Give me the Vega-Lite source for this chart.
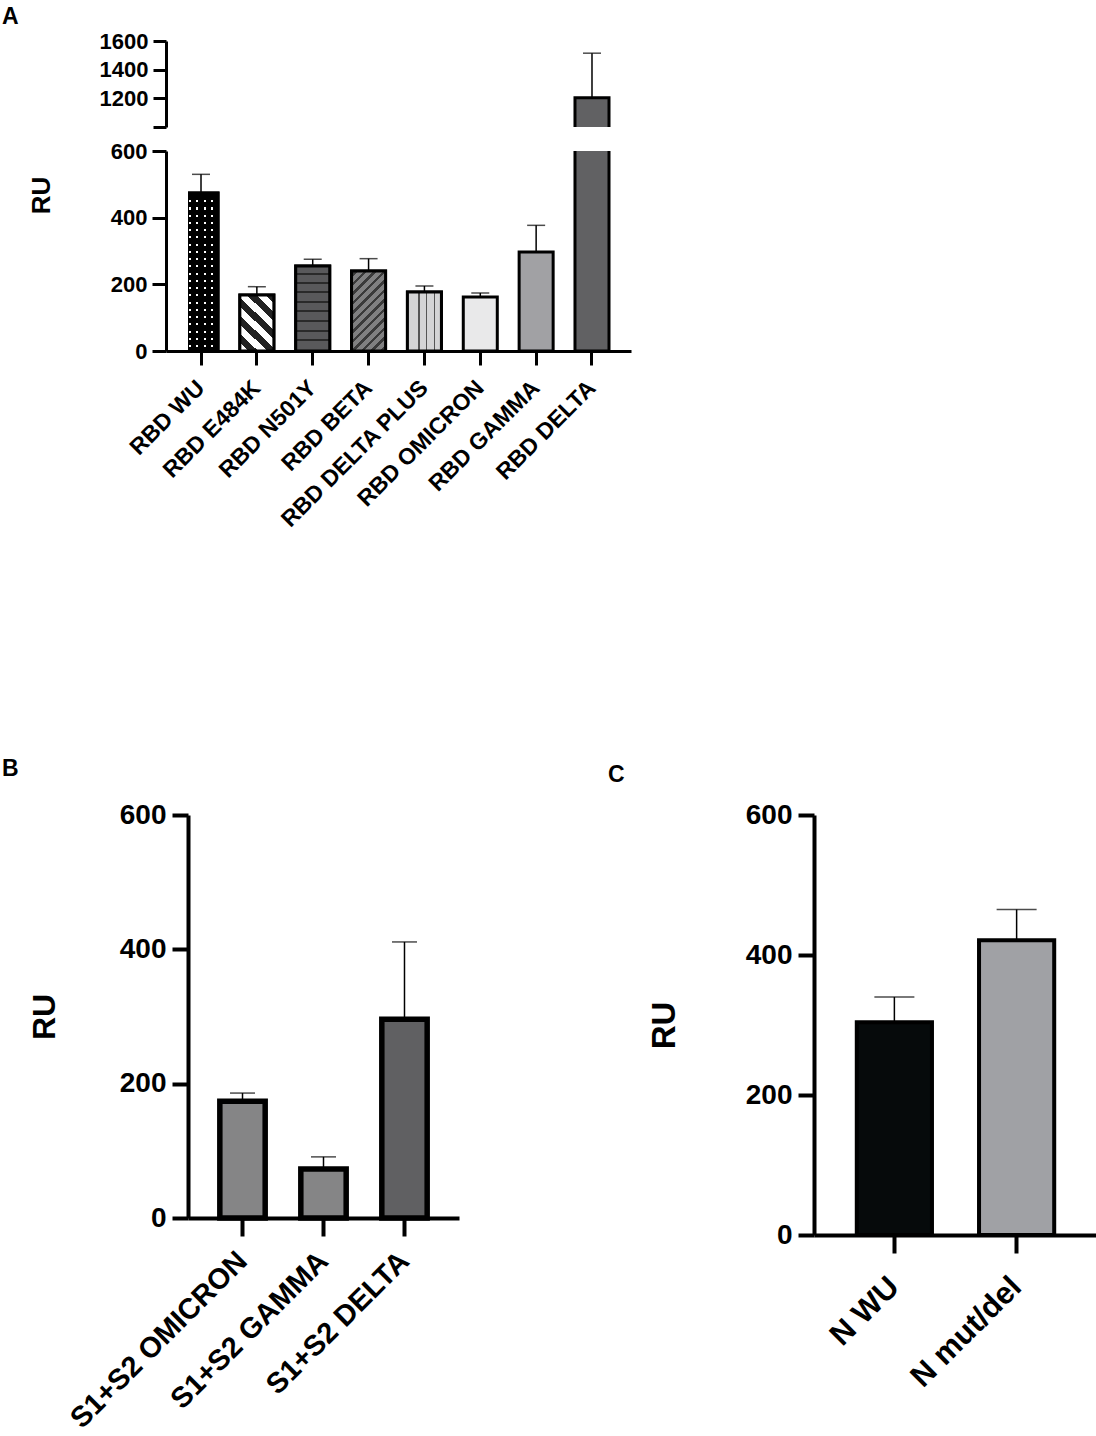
{
  "$schema": "https://vega.github.io/schema/vega-lite/v6.json",
  "background": "white",
  "padding": {"left": 2, "top": 6, "right": 0, "bottom": 0},
  "datasets": {
    "A": [
      {"name": "RBD WU", "value": 474, "upper": 530},
      {"name": "RBD E484K", "value": 168, "upper": 193},
      {"name": "RBD N501Y", "value": 255, "upper": 275},
      {"name": "RBD BETA", "value": 240, "upper": 277},
      {"name": "RBD DELTA PLUS", "value": 177, "upper": 195},
      {"name": "RBD OMICRON", "value": 162, "upper": 174},
      {"name": "RBD GAMMA", "value": 297, "upper": 377},
      {"name": "RBD DELTA", "value": 1204, "upper": 1515}
    ],
    "B": [
      {"name": "S1+S2 OMICRON", "value": 174, "upper": 186},
      {"name": "S1+S2 GAMMA", "value": 73, "upper": 91},
      {"name": "S1+S2 DELTA", "value": 296, "upper": 411}
    ],
    "C": [
      {"name": "N WU", "value": 304, "upper": 340},
      {"name": "N mut/del", "value": 421, "upper": 465}
    ]
  },
  "spacing": 226,
  "resolve": {"scale": {"fill": "independent"}},
  "vconcat": [
    {
      "bounds": "flush",
      "spacing": 24,
      "vconcat": [
        {
          "width": 443,
          "height": 86,
          "title": {"text": "A", "fontSize": 23, "dx": -186, "offset": 1},
          "data": {"name": "A"},
          "transform": [{"filter": "datum.value > 1000"}],
          "encoding": {
            "x": {
              "field": "name", "type": "nominal", "sort": null,
              "scale": {"domain": ["RBD WU", "RBD E484K", "RBD N501Y", "RBD BETA", "RBD DELTA PLUS", "RBD OMICRON", "RBD GAMMA", "RBD DELTA"], "range": [-22, 443], "paddingInner": 0.391, "paddingOuter": 0.358, "align": 0.45},
              "axis": null
            }
          },
          "layer": [
            {
              "mark": {"type": "rule", "color": "#000000", "strokeWidth": 1.5, "clip": false},
              "encoding": {
                "y": {"field": "value", "type": "quantitative", "scale": {"domain": [1000, 1600]},
                  "axis": {"title": null, "offset": 22, "values": [1000, 1200, 1400, 1600], "tickCount": 10, "format": "d", "labelExpr": "datum.value === 1000 ? '' : datum.label", "labelOverlap": false, "labelFontSize": 22, "tickSize": 13, "tickWidth": 3, "domainWidth": 3, "labelPadding": 5}},
                "y2": {"field": "upper"}
              }
            },
            {
              "mark": {"type": "tick", "color": "#000000", "thickness": 1.5, "size": 18},
              "encoding": {"y": {"field": "upper", "type": "quantitative"}}
            },
            {
              "mark": {"type": "bar", "fill": "#616163", "stroke": "#000000", "strokeWidth": 3, "clip": true},
              "encoding": {"y": {"field": "value", "type": "quantitative"}, "y2": {"datum": 0}}
            }
          ]
        },
        {
          "width": 443,
          "height": 200,
          "data": {"name": "A"},
          "encoding": {
            "x": {
              "field": "name", "type": "nominal", "sort": null,
              "scale": {"domain": ["RBD WU", "RBD E484K", "RBD N501Y", "RBD BETA", "RBD DELTA PLUS", "RBD OMICRON", "RBD GAMMA", "RBD DELTA"], "range": [-22, 443], "paddingInner": 0.391, "paddingOuter": 0.358, "align": 0.45},
              "axis": {"title": null, "labelAngle": -45, "labelAlign": "right", "labelBaseline": "middle", "labelFontSize": 23, "labelLimit": 0, "labelOverlap": false, "tickSize": 14, "tickWidth": 3, "domainWidth": 3, "labelPadding": 19}
            }
          },
          "layer": [
            {
              "mark": {"type": "rule", "color": "#000000", "strokeWidth": 1.5, "clip": true},
              "encoding": {
                "y": {"field": "value", "type": "quantitative", "scale": {"domain": [0, 600]},
                  "axis": {"title": "RU", "offset": 22, "titleFontSize": 26, "titleX": -117, "titleY": 44, "titleBaseline": "alphabetic", "values": [0, 200, 400, 600], "tickCount": 10, "labelOverlap": false, "labelFontSize": 22, "tickSize": 14, "tickWidth": 3, "domainWidth": 3, "labelPadding": 5}},
                "y2": {"field": "upper"}
              }
            },
            {
              "mark": {"type": "tick", "color": "#000000", "thickness": 1.5, "size": 18, "clip": true},
              "encoding": {"y": {"field": "upper", "type": "quantitative"}}
            },
            {
              "mark": {"type": "bar", "stroke": "#000000", "strokeWidth": 3, "clip": true},
              "encoding": {
                "y": {"field": "value", "type": "quantitative"},
                "y2": {"datum": 0},
                "fill": {"field": "name", "type": "nominal", "legend": null,
                  "scale": {"domain": ["RBD WU", "RBD E484K", "RBD N501Y", "RBD BETA", "RBD DELTA PLUS", "RBD OMICRON", "RBD GAMMA", "RBD DELTA"],
                    "range": ["#ffffff", "#ffffff", "#59595b", "#7f7f80", "#d4d4d5", "#e9e9ea", "#a1a1a4", "#616163"]}}
              }
            },
            {
              "transform": [{"filter": {"field": "name", "equal": "RBD WU"}}],
              "mark": {"type": "bar", "strokeWidth": 0, "clip": true,
                "fill": {"gradient": "linear", "x1": 0, "y1": 0, "x2": 0, "y2": 1, "stops": [
                  {"offset": 0, "color": "#000000"},
                  {"offset": 0.0455, "color": "#000000"}, {"offset": 0.0455, "color": "rgba(0,0,0,0)"}, {"offset": 0.0585, "color": "rgba(0,0,0,0)"}, {"offset": 0.0585, "color": "#000000"},
                  {"offset": 0.0915, "color": "#000000"}, {"offset": 0.0915, "color": "rgba(0,0,0,0)"}, {"offset": 0.1045, "color": "rgba(0,0,0,0)"}, {"offset": 0.1045, "color": "#000000"},
                  {"offset": 0.1375, "color": "#000000"}, {"offset": 0.1375, "color": "rgba(0,0,0,0)"}, {"offset": 0.1505, "color": "rgba(0,0,0,0)"}, {"offset": 0.1505, "color": "#000000"},
                  {"offset": 0.1835, "color": "#000000"}, {"offset": 0.1835, "color": "rgba(0,0,0,0)"}, {"offset": 0.1965, "color": "rgba(0,0,0,0)"}, {"offset": 0.1965, "color": "#000000"},
                  {"offset": 0.2295, "color": "#000000"}, {"offset": 0.2295, "color": "rgba(0,0,0,0)"}, {"offset": 0.2425, "color": "rgba(0,0,0,0)"}, {"offset": 0.2425, "color": "#000000"},
                  {"offset": 0.2745, "color": "#000000"}, {"offset": 0.2745, "color": "rgba(0,0,0,0)"}, {"offset": 0.2875, "color": "rgba(0,0,0,0)"}, {"offset": 0.2875, "color": "#000000"},
                  {"offset": 0.3205, "color": "#000000"}, {"offset": 0.3205, "color": "rgba(0,0,0,0)"}, {"offset": 0.3335, "color": "rgba(0,0,0,0)"}, {"offset": 0.3335, "color": "#000000"},
                  {"offset": 0.3665, "color": "#000000"}, {"offset": 0.3665, "color": "rgba(0,0,0,0)"}, {"offset": 0.3795, "color": "rgba(0,0,0,0)"}, {"offset": 0.3795, "color": "#000000"},
                  {"offset": 0.4125, "color": "#000000"}, {"offset": 0.4125, "color": "rgba(0,0,0,0)"}, {"offset": 0.4255, "color": "rgba(0,0,0,0)"}, {"offset": 0.4255, "color": "#000000"},
                  {"offset": 0.4585, "color": "#000000"}, {"offset": 0.4585, "color": "rgba(0,0,0,0)"}, {"offset": 0.4715, "color": "rgba(0,0,0,0)"}, {"offset": 0.4715, "color": "#000000"},
                  {"offset": 0.5035, "color": "#000000"}, {"offset": 0.5035, "color": "rgba(0,0,0,0)"}, {"offset": 0.5165, "color": "rgba(0,0,0,0)"}, {"offset": 0.5165, "color": "#000000"},
                  {"offset": 0.5495, "color": "#000000"}, {"offset": 0.5495, "color": "rgba(0,0,0,0)"}, {"offset": 0.5625, "color": "rgba(0,0,0,0)"}, {"offset": 0.5625, "color": "#000000"},
                  {"offset": 0.5955, "color": "#000000"}, {"offset": 0.5955, "color": "rgba(0,0,0,0)"}, {"offset": 0.6085, "color": "rgba(0,0,0,0)"}, {"offset": 0.6085, "color": "#000000"},
                  {"offset": 0.6415, "color": "#000000"}, {"offset": 0.6415, "color": "rgba(0,0,0,0)"}, {"offset": 0.6545, "color": "rgba(0,0,0,0)"}, {"offset": 0.6545, "color": "#000000"},
                  {"offset": 0.6875, "color": "#000000"}, {"offset": 0.6875, "color": "rgba(0,0,0,0)"}, {"offset": 0.7005, "color": "rgba(0,0,0,0)"}, {"offset": 0.7005, "color": "#000000"},
                  {"offset": 0.7335, "color": "#000000"}, {"offset": 0.7335, "color": "rgba(0,0,0,0)"}, {"offset": 0.7465, "color": "rgba(0,0,0,0)"}, {"offset": 0.7465, "color": "#000000"},
                  {"offset": 0.7785, "color": "#000000"}, {"offset": 0.7785, "color": "rgba(0,0,0,0)"}, {"offset": 0.7915, "color": "rgba(0,0,0,0)"}, {"offset": 0.7915, "color": "#000000"},
                  {"offset": 0.8245, "color": "#000000"}, {"offset": 0.8245, "color": "rgba(0,0,0,0)"}, {"offset": 0.8375, "color": "rgba(0,0,0,0)"}, {"offset": 0.8375, "color": "#000000"},
                  {"offset": 0.8705, "color": "#000000"}, {"offset": 0.8705, "color": "rgba(0,0,0,0)"}, {"offset": 0.8835, "color": "rgba(0,0,0,0)"}, {"offset": 0.8835, "color": "#000000"},
                  {"offset": 0.9165, "color": "#000000"}, {"offset": 0.9165, "color": "rgba(0,0,0,0)"}, {"offset": 0.9295, "color": "rgba(0,0,0,0)"}, {"offset": 0.9295, "color": "#000000"},
                  {"offset": 0.9625, "color": "#000000"}, {"offset": 0.9625, "color": "rgba(0,0,0,0)"}, {"offset": 0.9755, "color": "rgba(0,0,0,0)"}, {"offset": 0.9755, "color": "#000000"},
                  {"offset": 1, "color": "#000000"}
                ]}},
              "encoding": {"y": {"field": "value", "type": "quantitative"}, "y2": {"datum": 0}}
            },
            {
              "transform": [{"filter": {"field": "name", "equal": "RBD WU"}}],
              "mark": {"type": "bar", "stroke": "#000000", "strokeWidth": 3, "clip": true,
                "fill": {"gradient": "linear", "x1": 0, "y1": 0, "x2": 1, "y2": 0, "stops": [
                  {"offset": 0, "color": "#000000"},
                  {"offset": 0.15, "color": "#000000"}, {"offset": 0.15, "color": "rgba(0,0,0,0)"}, {"offset": 0.21, "color": "rgba(0,0,0,0)"}, {"offset": 0.21, "color": "#000000"},
                  {"offset": 0.36, "color": "#000000"}, {"offset": 0.36, "color": "rgba(0,0,0,0)"}, {"offset": 0.42, "color": "rgba(0,0,0,0)"}, {"offset": 0.42, "color": "#000000"},
                  {"offset": 0.58, "color": "#000000"}, {"offset": 0.58, "color": "rgba(0,0,0,0)"}, {"offset": 0.64, "color": "rgba(0,0,0,0)"}, {"offset": 0.64, "color": "#000000"},
                  {"offset": 0.79, "color": "#000000"}, {"offset": 0.79, "color": "rgba(0,0,0,0)"}, {"offset": 0.85, "color": "rgba(0,0,0,0)"}, {"offset": 0.85, "color": "#000000"},
                  {"offset": 1, "color": "#000000"}
                ]}},
              "encoding": {"y": {"field": "value", "type": "quantitative"}, "y2": {"datum": 0}}
            },
            {
              "transform": [{"filter": {"field": "name", "equal": "RBD E484K"}}],
              "mark": {"type": "bar", "stroke": "#000000", "strokeWidth": 3, "clip": true,
                "fill": {"gradient": "linear", "x1": 0, "y1": 1, "x2": 0.71, "y2": -0.18, "stops": [
                  {"offset": 0, "color": "#ffffff"}, {"offset": 0.1, "color": "#ffffff"}, {"offset": 0.1, "color": "#222222"},
                  {"offset": 0.2, "color": "#222222"}, {"offset": 0.2, "color": "#ffffff"}, {"offset": 0.3, "color": "#ffffff"}, {"offset": 0.3, "color": "#222222"},
                  {"offset": 0.4, "color": "#222222"}, {"offset": 0.4, "color": "#ffffff"}, {"offset": 0.5, "color": "#ffffff"}, {"offset": 0.5, "color": "#222222"},
                  {"offset": 0.6, "color": "#222222"}, {"offset": 0.6, "color": "#ffffff"}, {"offset": 0.7, "color": "#ffffff"}, {"offset": 0.7, "color": "#222222"},
                  {"offset": 0.8, "color": "#222222"}, {"offset": 0.8, "color": "#ffffff"}, {"offset": 0.9, "color": "#ffffff"}, {"offset": 0.9, "color": "#222222"},
                  {"offset": 1, "color": "#222222"}
                ]}},
              "encoding": {"y": {"field": "value", "type": "quantitative"}, "y2": {"datum": 0}}
            },
            {
              "transform": [{"filter": {"field": "name", "equal": "RBD N501Y"}}],
              "mark": {"type": "bar", "stroke": "#000000", "strokeWidth": 3, "clip": true,
                "fill": {"gradient": "linear", "x1": 0, "y1": 0, "x2": 0, "y2": 1, "stops": [
                  {"offset": 0, "color": "#59595b"},
                  {"offset": 0.083, "color": "#59595b"}, {"offset": 0.083, "color": "#2a2a2a"}, {"offset": 0.107, "color": "#2a2a2a"}, {"offset": 0.107, "color": "#59595b"},
                  {"offset": 0.188, "color": "#59595b"}, {"offset": 0.188, "color": "#2a2a2a"}, {"offset": 0.212, "color": "#2a2a2a"}, {"offset": 0.212, "color": "#59595b"},
                  {"offset": 0.298, "color": "#59595b"}, {"offset": 0.298, "color": "#2a2a2a"}, {"offset": 0.322, "color": "#2a2a2a"}, {"offset": 0.322, "color": "#59595b"},
                  {"offset": 0.408, "color": "#59595b"}, {"offset": 0.408, "color": "#2a2a2a"}, {"offset": 0.432, "color": "#2a2a2a"}, {"offset": 0.432, "color": "#59595b"},
                  {"offset": 0.523, "color": "#59595b"}, {"offset": 0.523, "color": "#2a2a2a"}, {"offset": 0.547, "color": "#2a2a2a"}, {"offset": 0.547, "color": "#59595b"},
                  {"offset": 0.638, "color": "#59595b"}, {"offset": 0.638, "color": "#2a2a2a"}, {"offset": 0.662, "color": "#2a2a2a"}, {"offset": 0.662, "color": "#59595b"},
                  {"offset": 0.748, "color": "#59595b"}, {"offset": 0.748, "color": "#2a2a2a"}, {"offset": 0.772, "color": "#2a2a2a"}, {"offset": 0.772, "color": "#59595b"},
                  {"offset": 0.863, "color": "#59595b"}, {"offset": 0.863, "color": "#2a2a2a"}, {"offset": 0.887, "color": "#2a2a2a"}, {"offset": 0.887, "color": "#59595b"},
                  {"offset": 1, "color": "#59595b"}
                ]}},
              "encoding": {"y": {"field": "value", "type": "quantitative"}, "y2": {"datum": 0}}
            },
            {
              "transform": [{"filter": {"field": "name", "equal": "RBD BETA"}}],
              "mark": {"type": "bar", "stroke": "#000000", "strokeWidth": 3, "clip": true,
                "fill": {"gradient": "linear", "x1": 0, "y1": 0, "x2": 0.51, "y2": 1.21, "stops": [
                  {"offset": 0, "color": "#808081"},
                  {"offset": 0.026, "color": "#808081"}, {"offset": 0.026, "color": "#3a3a3a"}, {"offset": 0.058, "color": "#3a3a3a"}, {"offset": 0.058, "color": "#808081"},
                  {"offset": 0.109, "color": "#808081"}, {"offset": 0.109, "color": "#3a3a3a"}, {"offset": 0.141, "color": "#3a3a3a"}, {"offset": 0.141, "color": "#808081"},
                  {"offset": 0.193, "color": "#808081"}, {"offset": 0.193, "color": "#3a3a3a"}, {"offset": 0.225, "color": "#3a3a3a"}, {"offset": 0.225, "color": "#808081"},
                  {"offset": 0.276, "color": "#808081"}, {"offset": 0.276, "color": "#3a3a3a"}, {"offset": 0.308, "color": "#3a3a3a"}, {"offset": 0.308, "color": "#808081"},
                  {"offset": 0.359, "color": "#808081"}, {"offset": 0.359, "color": "#3a3a3a"}, {"offset": 0.391, "color": "#3a3a3a"}, {"offset": 0.391, "color": "#808081"},
                  {"offset": 0.443, "color": "#808081"}, {"offset": 0.443, "color": "#3a3a3a"}, {"offset": 0.475, "color": "#3a3a3a"}, {"offset": 0.475, "color": "#808081"},
                  {"offset": 0.526, "color": "#808081"}, {"offset": 0.526, "color": "#3a3a3a"}, {"offset": 0.558, "color": "#3a3a3a"}, {"offset": 0.558, "color": "#808081"},
                  {"offset": 0.609, "color": "#808081"}, {"offset": 0.609, "color": "#3a3a3a"}, {"offset": 0.641, "color": "#3a3a3a"}, {"offset": 0.641, "color": "#808081"},
                  {"offset": 0.693, "color": "#808081"}, {"offset": 0.693, "color": "#3a3a3a"}, {"offset": 0.725, "color": "#3a3a3a"}, {"offset": 0.725, "color": "#808081"},
                  {"offset": 0.776, "color": "#808081"}, {"offset": 0.776, "color": "#3a3a3a"}, {"offset": 0.808, "color": "#3a3a3a"}, {"offset": 0.808, "color": "#808081"},
                  {"offset": 0.859, "color": "#808081"}, {"offset": 0.859, "color": "#3a3a3a"}, {"offset": 0.891, "color": "#3a3a3a"}, {"offset": 0.891, "color": "#808081"},
                  {"offset": 0.943, "color": "#808081"}, {"offset": 0.943, "color": "#3a3a3a"}, {"offset": 0.975, "color": "#3a3a3a"}, {"offset": 0.975, "color": "#808081"},
                  {"offset": 1, "color": "#808081"}
                ]}},
              "encoding": {"y": {"field": "value", "type": "quantitative"}, "y2": {"datum": 0}}
            },
            {
              "transform": [{"filter": {"field": "name", "equal": "RBD DELTA PLUS"}}],
              "mark": {"type": "bar", "stroke": "#000000", "strokeWidth": 3, "clip": true,
                "fill": {"gradient": "linear", "x1": 0, "y1": 0, "x2": 1, "y2": 0, "stops": [
                  {"offset": 0, "color": "#d4d4d5"},
                  {"offset": 0.325, "color": "#d4d4d5"}, {"offset": 0.325, "color": "#555555"}, {"offset": 0.375, "color": "#555555"}, {"offset": 0.375, "color": "#d4d4d5"},
                  {"offset": 0.535, "color": "#d4d4d5"}, {"offset": 0.535, "color": "#555555"}, {"offset": 0.585, "color": "#555555"}, {"offset": 0.585, "color": "#d4d4d5"},
                  {"offset": 0.775, "color": "#d4d4d5"}, {"offset": 0.775, "color": "#555555"}, {"offset": 0.825, "color": "#555555"}, {"offset": 0.825, "color": "#d4d4d5"},
                  {"offset": 1, "color": "#d4d4d5"}
                ]}},
              "encoding": {"y": {"field": "value", "type": "quantitative"}, "y2": {"datum": 0}}
            }
          ]
        }
      ]
    },
    {
      "spacing": 149,
      "resolve": {"scale": {"fill": "independent"}},
      "hconcat": [
        {
          "width": 271,
          "height": 403,
          "title": {"text": "B", "fontSize": 23, "dx": -186, "offset": 20},
          "data": {"name": "B"},
          "encoding": {
            "x": {
              "field": "name", "type": "nominal", "sort": null,
              "scale": {"paddingInner": 0.44, "paddingOuter": 0.393},
              "axis": {"title": null, "labelAngle": -45, "labelAlign": "right", "labelBaseline": "middle", "labelFontSize": 29, "labelLimit": 0, "labelOverlap": false, "tickSize": 18, "tickWidth": 4, "domainWidth": 4, "labelPadding": 20}
            }
          },
          "layer": [
            {
              "mark": {"type": "rule", "color": "#000000", "strokeWidth": 1.5},
              "encoding": {
                "y": {"field": "value", "type": "quantitative", "scale": {"domain": [0, 600]},
                  "axis": {"title": "RU", "titleFontSize": 32, "titleX": -134, "titleBaseline": "alphabetic", "values": [0, 200, 400, 600], "tickCount": 10, "labelOverlap": false, "labelFontSize": 28, "tickSize": 16, "tickWidth": 4, "domainWidth": 4, "labelPadding": 6}},
                "y2": {"field": "upper"}
              }
            },
            {
              "mark": {"type": "tick", "color": "#000000", "thickness": 1.5, "size": 25},
              "encoding": {"y": {"field": "upper", "type": "quantitative"}}
            },
            {
              "mark": {"type": "bar", "stroke": "#000000", "strokeWidth": 5.5},
              "encoding": {
                "y": {"field": "value", "type": "quantitative"},
                "y2": {"datum": 0},
                "fill": {"field": "name", "type": "nominal", "legend": null,
                  "scale": {"domain": ["S1+S2 OMICRON", "S1+S2 GAMMA", "S1+S2 DELTA"], "range": ["#858586", "#858586", "#606062"]}}
              }
            }
          ]
        },
        {
          "width": 283,
          "height": 420,
          "title": {"text": "C", "fontSize": 23, "dx": -206, "offset": 14},
          "data": {"name": "C"},
          "encoding": {
            "x": {
              "field": "name", "type": "nominal", "sort": null,
              "scale": {"paddingInner": 0.385, "paddingOuter": 0.35},
              "axis": {"title": null, "labelAngle": -45, "labelAlign": "right", "labelBaseline": "middle", "labelFontSize": 31, "labelLimit": 0, "labelOverlap": false, "tickSize": 18, "tickWidth": 4, "domainWidth": 4, "labelPadding": 29}
            }
          },
          "layer": [
            {
              "mark": {"type": "rule", "color": "#000000", "strokeWidth": 1.5},
              "encoding": {
                "y": {"field": "value", "type": "quantitative", "scale": {"domain": [0, 600]},
                  "axis": {"title": "RU", "titleFontSize": 33, "titleX": -140, "titleBaseline": "alphabetic", "values": [0, 200, 400, 600], "tickCount": 10, "labelOverlap": false, "labelFontSize": 28, "tickSize": 16, "tickWidth": 4, "domainWidth": 4, "labelPadding": 6}},
                "y2": {"field": "upper"}
              }
            },
            {
              "mark": {"type": "tick", "color": "#000000", "thickness": 1.5, "size": 40},
              "encoding": {"y": {"field": "upper", "type": "quantitative"}}
            },
            {
              "mark": {"type": "bar", "stroke": "#000000", "strokeWidth": 4},
              "encoding": {
                "y": {"field": "value", "type": "quantitative"},
                "y2": {"datum": 0},
                "fill": {"field": "name", "type": "nominal", "legend": null,
                  "scale": {"domain": ["N WU", "N mut/del"], "range": ["#060a0b", "#a0a1a5"]}}
              }
            }
          ]
        }
      ]
    }
  ],
  "config": {
    "font": "Liberation Sans",
    "view": {"stroke": null},
    "axis": {
      "labelFont": "Liberation Sans", "labelFontWeight": "bold", "labelColor": "#000000",
      "titleFont": "Liberation Sans", "titleFontWeight": "bold", "titleColor": "#000000",
      "domainColor": "#000000", "tickColor": "#000000", "grid": false
    },
    "title": {"font": "Liberation Sans", "fontWeight": "bold", "color": "#000000", "anchor": "start", "frame": "group"}
  }
}
